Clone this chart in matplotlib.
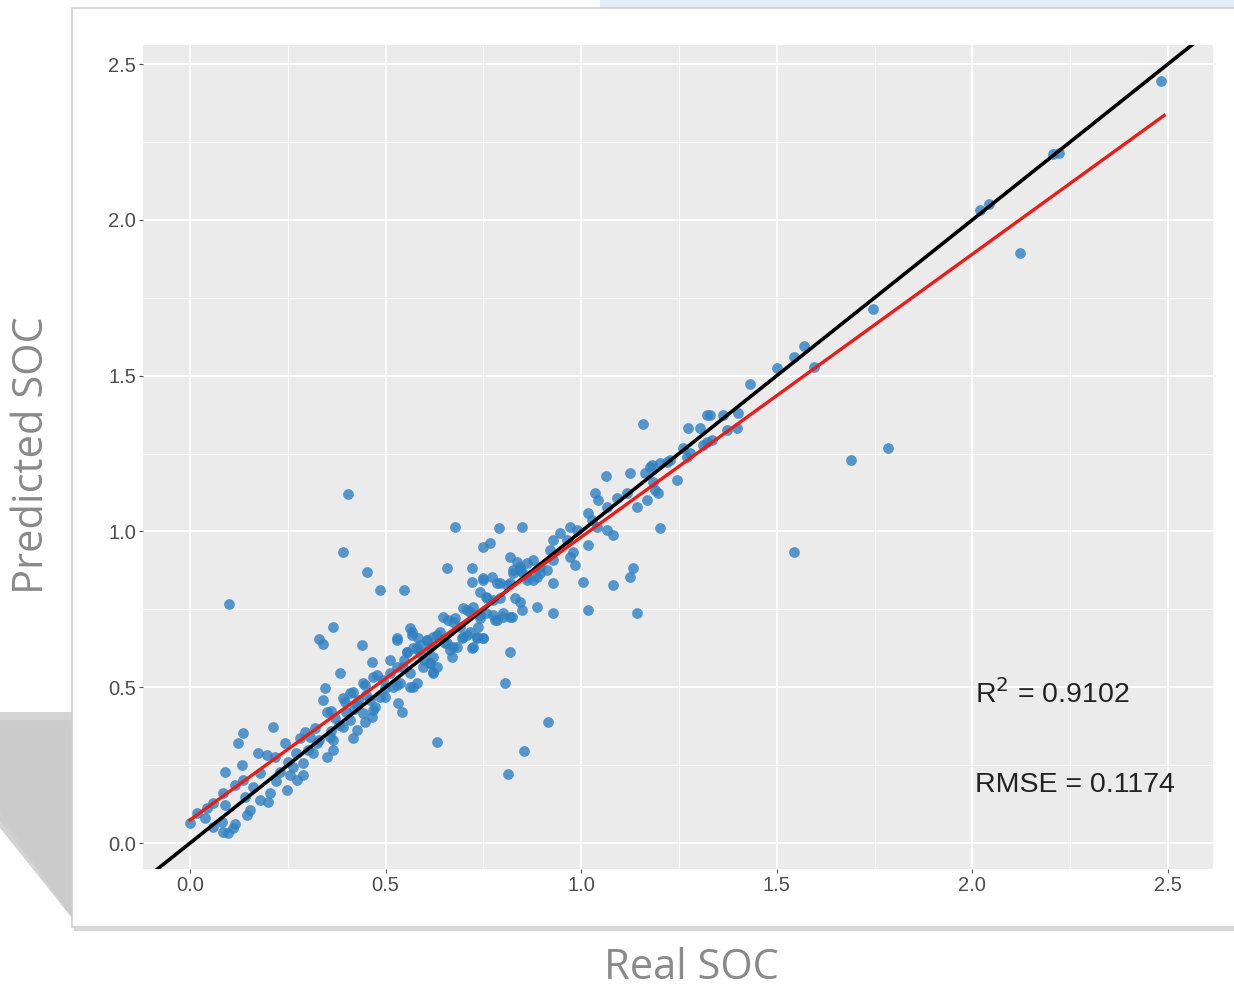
import matplotlib
matplotlib.use("Agg")
import numpy as np
from matplotlib import pyplot as plt
from matplotlib.patches import Rectangle, Polygon
from matplotlib.ticker import MultipleLocator

# real vs predicted SOC
real_soc = [
    0.0, 0.017, 0.043, 0.038, 0.059, 0.084, 0.11, 0.081, 0.089, 0.084, 0.115, 0.089, 0.136, 0.133,
    0.123, 0.136, 0.174, 0.197, 0.212, 0.217, 0.146, 0.153, 0.14, 0.179, 0.204, 0.20, 0.23, 0.243,
    0.248, 0.256, 0.273, 0.264, 0.281, 0.294, 0.307, 0.302, 0.289, 0.314, 0.325, 0.33, 0.34, 0.345,
    0.383, 0.34, 0.33, 0.44, 0.465, 0.35, 0.36, 0.37, 0.39, 0.417, 0.447, 0.45, 0.468, 0.409, 0.426,
    0.391, 0.417, 0.447, 0.465, 0.473, 0.358, 0.366, 0.366, 0.35,
    0.097, 0.115, 0.06, 0.16, 0.18, 0.22, 0.25, 0.27, 0.29, 0.32, 0.36, 0.38, 0.40, 0.42, 0.43,
    0.391, 0.452, 0.486, 0.547, 0.677, 0.79, 0.85, 0.749, 0.767, 0.656, 0.72, 0.749, 0.72, 0.366,
    0.511, 0.529, 0.562, 0.567, 0.555, 0.58, 0.583, 0.605, 0.613, 0.631, 0.622, 0.647, 0.66, 0.677,
    0.69, 0.652, 0.672, 0.695, 0.698, 0.716, 0.708, 0.723, 0.734, 0.749, 0.736, 0.741, 0.759, 0.785,
    0.792, 0.818, 0.831, 0.844, 0.849, 0.823, 0.8, 0.775, 0.785, 0.818, 0.836, 0.844, 0.826, 0.849,
    0.861, 0.818, 0.805, 0.443, 0.477, 0.498, 0.529, 0.545, 0.562, 0.596, 0.613, 0.622, 0.588, 0.57,
    0.532, 0.542, 0.409, 0.396, 0.426, 0.46, 0.486, 0.468, 0.443,
    0.673, 0.707, 0.724, 0.741, 0.758, 0.775, 0.792, 0.81, 0.826, 0.843, 0.861, 0.877, 0.895, 0.741,
    0.758, 0.779, 0.8, 0.818, 0.698, 0.716, 0.733, 0.75, 0.72, 0.639, 0.622, 0.605, 0.588, 0.571,
    0.554, 0.546, 0.529, 0.511, 0.537, 0.562, 0.58, 0.597, 0.613, 0.631, 0.622, 0.67, 0.682, 0.656,
    0.665, 0.567, 0.529, 0.498, 0.494, 0.519,
    1.158, 1.063, 1.125, 1.163, 1.181, 1.201, 1.219, 1.035, 1.043, 1.066, 1.091, 1.117, 1.143, 1.168,
    1.189, 1.201, 1.018, 1.027, 1.04, 1.066, 1.082, 1.018, 0.946, 0.971, 0.989, 0.964, 0.928, 0.92,
    0.979, 0.971, 0.984, 0.877, 0.895, 0.913, 0.928, 0.887, 0.861, 0.928, 1.005, 1.082, 1.133, 1.125,
    0.887, 0.928, 1.018, 1.143, 0.749, 0.772,
    1.321, 1.33, 1.362, 1.40, 1.274, 1.303, 1.372, 1.398, 1.321, 1.334, 1.311, 1.26, 1.27, 1.278,
    1.227, 1.245, 1.176, 1.184, 1.196,
    2.481, 2.205, 2.222, 2.019, 2.042, 2.122, 1.746, 1.569, 1.544, 1.5, 1.595, 1.432, 1.69, 1.783,
    1.544,
    0.10, 0.403, 0.631, 0.915, 0.854, 0.813,
]
predicted_soc = [
    0.064, 0.097, 0.112, 0.080, 0.051, 0.035, 0.048, 0.069, 0.122, 0.160, 0.186, 0.228, 0.202, 0.25,
    0.32, 0.353, 0.289, 0.282, 0.372, 0.276, 0.090, 0.106, 0.148, 0.225, 0.160, 0.132, 0.228, 0.321,
    0.170, 0.218, 0.202, 0.244, 0.337, 0.356, 0.340, 0.298, 0.257, 0.289, 0.321, 0.33, 0.459, 0.497,
    0.545, 0.64, 0.655, 0.635, 0.581, 0.42, 0.425, 0.40, 0.465, 0.485, 0.507, 0.475, 0.533, 0.395,
    0.363, 0.372, 0.337, 0.388, 0.404, 0.436, 0.34, 0.33, 0.298, 0.276,
    0.032, 0.06, 0.13, 0.18, 0.14, 0.20, 0.26, 0.29, 0.22, 0.37, 0.36, 0.38, 0.42, 0.43, 0.46,
    0.934, 0.87, 0.812, 0.812, 1.014, 1.01, 1.014, 0.95, 0.963, 0.883, 0.883, 0.85, 0.838, 0.693,
    0.587, 0.658, 0.69, 0.667, 0.613, 0.626, 0.658, 0.651, 0.629, 0.667, 0.597, 0.725, 0.716, 0.722,
    0.693, 0.642, 0.629, 0.658, 0.754, 0.741, 0.667, 0.629, 0.658, 0.658, 0.693, 0.722, 0.786, 0.834,
    0.786, 0.834, 0.786, 0.773, 0.748, 0.725, 0.725, 0.732, 0.716, 0.918, 0.902, 0.886, 0.876, 0.87,
    0.899, 0.613, 0.513, 0.513, 0.539, 0.497, 0.507, 0.565, 0.545, 0.565, 0.578, 0.549, 0.61, 0.5,
    0.449, 0.42, 0.481, 0.452, 0.443, 0.459, 0.469, 0.427, 0.417,
    0.709, 0.748, 0.757, 0.806, 0.79, 0.78, 0.834, 0.828, 0.866, 0.876, 0.854, 0.844, 0.866, 0.732,
    0.738, 0.716, 0.738, 0.725, 0.661, 0.677, 0.661, 0.658, 0.626, 0.677, 0.661, 0.651, 0.635, 0.626,
    0.613, 0.587, 0.565, 0.545, 0.513, 0.501, 0.513, 0.587, 0.578, 0.565, 0.545, 0.597, 0.629, 0.642,
    0.619, 0.677, 0.651, 0.469, 0.523, 0.501,
    1.345, 1.178, 1.187, 1.187, 1.213, 1.22, 1.223, 1.123, 1.101, 1.078, 1.107, 1.123, 1.078, 1.101,
    1.133, 1.011, 1.059, 1.037, 1.014, 1.005, 0.988, 0.956, 0.995, 1.014, 1.005, 0.972, 0.972, 0.94,
    0.934, 0.918, 0.892, 0.908, 0.886, 0.876, 0.908, 0.854, 0.844, 0.834, 0.838, 0.828, 0.883, 0.854,
    0.757, 0.738, 0.748, 0.738, 0.844, 0.854,
    1.374, 1.374, 1.374, 1.38, 1.332, 1.332, 1.325, 1.332, 1.287, 1.293, 1.277, 1.268, 1.239, 1.252,
    1.229, 1.165, 1.207, 1.159, 1.123,
    2.446, 2.21, 2.216, 2.033, 2.05, 1.893, 1.715, 1.596, 1.56, 1.524, 1.529, 1.472, 1.23, 1.267,
    0.935,
    0.767, 1.12, 0.324, 0.388, 0.295, 0.221,
]

fit_x = [0.0, 2.49]
fit_intercept = 0.074
fit_slope = 0.908
ticks = [0.0, 0.5, 1.0, 1.5, 2.0, 2.5]
r2_text = r"R$^2$ = 0.9102"
rmse_text = "RMSE = 0.1174"

W, H = 1234, 988


def px(x, y):
    return x / W, 1 - y / H


fig = plt.figure(figsize=(W / 100, H / 100), dpi=100)
fig.patch.set_facecolor("white")

# light blue strip at the very top
fig.patches.append(Rectangle(px(600, 8), 634 / W, 8 / H, transform=fig.transFigure,
                             facecolor="#e2edf7", edgecolor="none", zorder=0))
# card shadow bottom-left
for k, a in enumerate([0.25, 0.45, 0.75]):
    d = (2 - k) * 8
    fig.patches.append(Polygon([px(0, 712 + d), px(72, 712 + d), px(72, 918), px(0, 828 - d)],
                               closed=True, transform=fig.transFigure,
                               facecolor="#c6c6c6", edgecolor="none", alpha=a, zorder=0))
fig.patches.append(Rectangle(px(74, 931), 1170 / W, 3 / H, transform=fig.transFigure,
                             facecolor="#d8d8d8", edgecolor="none", zorder=0))
# white card
fig.patches.append(Rectangle(px(72, 927), 1170 / W, 919 / H, transform=fig.transFigure,
                             facecolor="white", edgecolor="#cfcfcf", linewidth=1.2, zorder=1))

ax = fig.add_axes([143 / W, 1 - 869 / H, (1213 - 143) / W, (869 - 45) / H])
ax.set_zorder(2)
ax.set_facecolor("#ebebeb")
ax.set_xlim(-0.120, 2.615)
ax.set_ylim(-0.083, 2.561)

ax.xaxis.set_major_locator(MultipleLocator(0.5))
ax.yaxis.set_major_locator(MultipleLocator(0.5))
ax.xaxis.set_minor_locator(MultipleLocator(0.25))
ax.yaxis.set_minor_locator(MultipleLocator(0.25))
ax.grid(which="major", color="white", linewidth=1.4)
ax.grid(which="minor", color="white", linewidth=0.7)
ax.set_axisbelow(True)
for s in ax.spines.values():
    s.set_visible(False)

ax.set_xticks(ticks)
ax.set_yticks(ticks)
ax.set_xticklabels([f"{t:.1f}" for t in ticks])
ax.set_yticklabels([f"{t:.1f}" for t in ticks])
ax.tick_params(which="major", length=3, width=0.8, color="#555555", labelcolor="#4d4d4d",
               labelsize=14.5, pad=2)
ax.tick_params(which="minor", length=0)
for lab in ax.get_xticklabels() + ax.get_yticklabels():
    lab.set_fontfamily("Liberation Sans")

ax.scatter(real_soc, predicted_soc, s=60, color="#2f80c1", alpha=0.8, linewidths=0, zorder=3)

ax.plot([-0.3, 2.8], [-0.3, 2.8], color="black", linewidth=2.6, zorder=4)
fx = np.array(fit_x)
ax.plot(fx, fit_intercept + fit_slope * fx, color="#e3201b", linewidth=2.4, zorder=5)

ax.text(2.007, 0.449, r2_text, fontsize=20.5, color="#222222", family="Liberation Sans",
        va="baseline", ha="left")
ax.text(2.007, 0.164, rmse_text, fontsize=20.5, color="#222222", family="Liberation Sans",
        va="baseline", ha="left")

fig.text(*px(691, 968), "Real SOC", fontsize=30, color="#8a8a8a", family="Open Sans",
         ha="center", va="center")
fig.text(*px(32, 455), "Predicted SOC", fontsize=30, color="#8a8a8a", family="Open Sans",
         ha="center", va="center", rotation=90)

fig.savefig("out.png", dpi=100)
